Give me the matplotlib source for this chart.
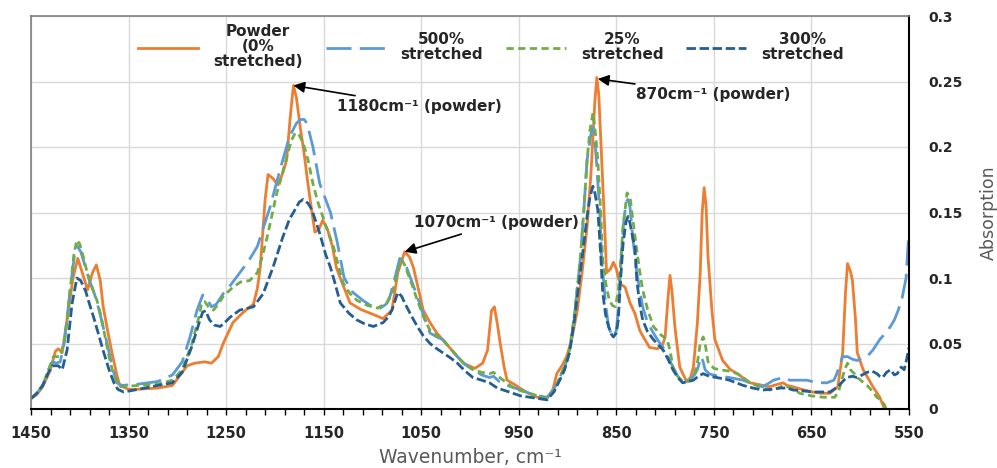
import matplotlib
matplotlib.use("Agg")
import matplotlib.pyplot as plt
import numpy as np

plt.rcParams["font.family"] = ["DejaVu Sans"]

# ---- data ----
powder_wn = [1450, 1444, 1438, 1430, 1425, 1422, 1418, 1412, 1407, 1402, 1397, 1392, 1387, 1383,
             1379, 1376, 1371, 1367, 1362, 1359, 1350, 1343, 1320, 1305, 1297, 1290, 1282, 1272,
             1265, 1258, 1253, 1243, 1235, 1229, 1222, 1218, 1215, 1210, 1207, 1202, 1197, 1192,
             1188, 1184, 1181, 1178, 1174, 1170, 1167, 1163, 1159, 1155, 1151, 1146, 1141, 1137,
             1133, 1123, 1112, 1102, 1089, 1080, 1074, 1067, 1062, 1058, 1053, 1048, 1041, 1034,
             1021, 1007, 995, 987, 982, 978, 975, 972, 969, 965, 962, 955, 949, 940, 931, 921,
             915, 911, 905, 901, 896, 890, 885, 880, 876, 872, 870, 868, 865, 862, 860, 856, 853,
             850, 848, 845, 841, 836, 831, 826, 820, 816, 808, 803, 800, 797, 795, 793, 790, 785,
             778, 774, 771, 767, 764, 762, 760, 758, 756, 752, 749, 741, 733, 726, 713, 700, 693,
             684, 679, 675, 669, 660, 649, 640, 631, 623, 618, 615, 613, 610, 608, 605, 603, 597,
             587, 580, 574, 571]
powder_abs = [0.008, 0.011, 0.017, 0.030, 0.044, 0.046, 0.043, 0.073, 0.100, 0.115, 0.103, 0.091,
              0.104, 0.110, 0.098, 0.078, 0.058, 0.043, 0.026, 0.018, 0.015, 0.015, 0.016, 0.018,
              0.026, 0.033, 0.035, 0.036, 0.035, 0.040, 0.050, 0.066, 0.072, 0.076, 0.080, 0.092,
              0.108, 0.160, 0.179, 0.176, 0.171, 0.180, 0.190, 0.225, 0.247, 0.238, 0.215, 0.195,
              0.177, 0.155, 0.135, 0.137, 0.144, 0.137, 0.124, 0.108, 0.100, 0.081, 0.076, 0.073,
              0.069, 0.0755, 0.104, 0.120, 0.116, 0.108, 0.092, 0.0755, 0.066, 0.058, 0.047, 0.035,
              0.031, 0.035, 0.045, 0.075, 0.078, 0.065, 0.050, 0.032, 0.022, 0.019, 0.016, 0.012,
              0.009, 0.008, 0.015, 0.027, 0.034, 0.040, 0.052, 0.0755, 0.105, 0.139, 0.180, 0.235,
              0.253, 0.240, 0.190, 0.140, 0.104, 0.107, 0.112, 0.107, 0.100, 0.095, 0.093, 0.081,
              0.073, 0.060, 0.052, 0.047, 0.046, 0.048, 0.055, 0.085, 0.102, 0.090, 0.063, 0.032,
              0.021, 0.024, 0.032, 0.065, 0.104, 0.150, 0.169, 0.155, 0.116, 0.075, 0.053, 0.037,
              0.030, 0.027, 0.020, 0.018, 0.017, 0.019, 0.020, 0.018, 0.017, 0.015, 0.013, 0.012,
              0.012, 0.017, 0.043, 0.090, 0.111, 0.105, 0.098, 0.070, 0.043, 0.030, 0.017, 0.009,
              -0.002, -0.010]

s500_wn = [1450, 1444, 1438, 1432, 1428, 1424, 1420, 1416, 1410, 1405, 1403, 1399, 1394, 1390,
           1385, 1380, 1372, 1366, 1362, 1357, 1340, 1320, 1305, 1295, 1287, 1280, 1274, 1270,
           1265, 1260, 1253, 1245, 1236, 1227, 1218, 1212, 1205, 1195, 1185, 1178, 1174, 1170,
           1167, 1161, 1154, 1148, 1143, 1136, 1129, 1120, 1110, 1102, 1092, 1086, 1082, 1077,
           1072, 1068, 1065, 1060, 1054, 1047, 1041, 1034, 1028, 1020, 1013, 1005, 997, 988, 980,
           976, 970, 962, 950, 939, 930, 921, 914, 908, 903, 898, 893, 887, 883, 880, 876, 874,
           872, 870, 867, 865, 861, 858, 855, 853, 850, 848, 845, 843, 840, 838, 836, 833, 829,
           823, 818, 812, 807, 802, 797, 792, 787, 783, 775, 770, 767, 763, 761, 759, 755, 751,
           742, 734, 727, 720, 710, 700, 693, 689, 679, 672, 662, 655, 649, 641, 634, 627, 624,
           620, 618, 613, 608, 603, 598, 593, 587, 580, 574, 569, 565, 561, 557, 553, 551, 550]
s500_abs = [0.008, 0.012, 0.018, 0.030, 0.036, 0.035, 0.036, 0.050, 0.090, 0.120, 0.125, 0.120,
            0.108, 0.098, 0.088, 0.075, 0.050, 0.030, 0.020, 0.018, 0.019, 0.021, 0.026, 0.036,
            0.055, 0.075, 0.087, 0.085, 0.078, 0.080, 0.088, 0.095, 0.104, 0.113, 0.124, 0.138,
            0.154, 0.182, 0.208, 0.218, 0.221, 0.221, 0.218, 0.200, 0.172, 0.160, 0.150, 0.127,
            0.100, 0.089, 0.083, 0.079, 0.077, 0.080, 0.086, 0.100, 0.115, 0.112, 0.108, 0.098,
            0.086, 0.070, 0.058, 0.055, 0.053, 0.046, 0.040, 0.034, 0.030, 0.026, 0.024, 0.025,
            0.021, 0.018, 0.015, 0.012, 0.010, 0.009, 0.015, 0.024, 0.032, 0.043, 0.070, 0.114,
            0.155, 0.190, 0.210, 0.215, 0.205, 0.185, 0.150, 0.114, 0.080, 0.063, 0.057, 0.055,
            0.060, 0.0755, 0.115, 0.139, 0.158, 0.160, 0.154, 0.130, 0.104, 0.078, 0.066, 0.058,
            0.052, 0.047, 0.040, 0.032, 0.025, 0.021, 0.022, 0.026, 0.030, 0.040, 0.036, 0.030,
            0.027, 0.026, 0.025, 0.024, 0.023, 0.022, 0.019, 0.017, 0.020, 0.022, 0.024, 0.022,
            0.022, 0.022, 0.021, 0.020, 0.020, 0.022, 0.027, 0.036, 0.040, 0.040, 0.038, 0.037,
            0.039, 0.040, 0.045, 0.053, 0.058, 0.063, 0.068, 0.0755, 0.085, 0.100, 0.125, 0.132]

s25_wn = [1450, 1444, 1438, 1432, 1427, 1420, 1415, 1410, 1406, 1403, 1400, 1396, 1392, 1387,
          1382, 1378, 1374, 1370, 1366, 1361, 1358, 1340, 1320, 1305, 1295, 1285, 1278, 1275,
          1272, 1268, 1263, 1258, 1253, 1243, 1235, 1226, 1218, 1213, 1208, 1203, 1198, 1193,
          1188, 1183, 1179, 1175, 1171, 1166, 1161, 1156, 1151, 1146, 1140, 1133, 1130, 1123,
          1116, 1105, 1095, 1085, 1080, 1077, 1073, 1070, 1067, 1064, 1059, 1054, 1048, 1041,
          1034, 1028, 1020, 1013, 1005, 997, 988, 980, 976, 971, 966, 955, 948, 939, 930, 921,
          914, 908, 903, 898, 893, 887, 883, 880, 877, 874, 872, 869, 866, 864, 860, 857, 854,
          851, 848, 846, 843, 839, 836, 833, 829, 826, 823, 818, 812, 805, 798, 795, 792, 787,
          782, 776, 771, 767, 764, 761, 759, 756, 750, 744, 735, 726, 720, 713, 703, 693, 684,
          679, 675, 668, 662, 650, 638, 626, 622, 619, 616, 613, 610, 606, 603, 598, 593, 588,
          583, 579, 575, 572, 570]
s25_abs = [0.008, 0.012, 0.018, 0.030, 0.040, 0.040, 0.055, 0.090, 0.118, 0.129, 0.126, 0.115,
           0.103, 0.092, 0.082, 0.070, 0.055, 0.040, 0.028, 0.019, 0.017, 0.018, 0.019, 0.022,
           0.030, 0.050, 0.070, 0.081, 0.082, 0.078, 0.0755, 0.080, 0.086, 0.093, 0.097, 0.098,
           0.104, 0.116, 0.131, 0.148, 0.165, 0.178, 0.192, 0.205, 0.211, 0.209, 0.203, 0.190,
           0.172, 0.158, 0.147, 0.136, 0.124, 0.104, 0.096, 0.088, 0.083, 0.079, 0.077, 0.081,
           0.088, 0.096, 0.108, 0.114, 0.110, 0.104, 0.094, 0.083, 0.071, 0.060, 0.056, 0.053,
           0.046, 0.040, 0.034, 0.030, 0.028, 0.027, 0.028, 0.025, 0.022, 0.016, 0.014, 0.012,
           0.010, 0.008, 0.014, 0.024, 0.033, 0.045, 0.072, 0.114, 0.155, 0.190, 0.213, 0.226,
           0.215, 0.190, 0.150, 0.114, 0.092, 0.083, 0.079, 0.078, 0.090, 0.108, 0.140, 0.165,
           0.162, 0.144, 0.121, 0.105, 0.091, 0.076, 0.063, 0.057, 0.053, 0.045, 0.032, 0.025,
           0.021, 0.021, 0.024, 0.035, 0.050, 0.055, 0.050, 0.036, 0.031, 0.030, 0.029, 0.027,
           0.024, 0.020, 0.017, 0.0145, 0.016, 0.018, 0.017, 0.015, 0.012, 0.010, 0.009, 0.009,
           0.014, 0.022, 0.030, 0.035, 0.030, 0.027, 0.024, 0.021, 0.018, 0.014, 0.009, 0.007,
           0.003, -0.003, -0.010]

s300_wn = [1450, 1444, 1438, 1432, 1428, 1422, 1418, 1413, 1408, 1403, 1399, 1394, 1390, 1385,
           1380, 1375, 1370, 1365, 1361, 1355, 1340, 1320, 1305, 1295, 1285, 1278, 1274, 1271,
           1267, 1262, 1256, 1250, 1246, 1236, 1222, 1212, 1202, 1192, 1185, 1181, 1175, 1171,
           1166, 1162, 1154, 1148, 1143, 1138, 1133, 1124, 1116, 1108, 1099, 1089, 1084, 1080,
           1074, 1070, 1067, 1060, 1054, 1048, 1041, 1034, 1028, 1020, 1013, 1005, 997, 988, 980,
           972, 964, 956, 948, 939, 930, 921, 914, 908, 903, 898, 893, 887, 883, 880, 877, 874,
           872, 869, 866, 864, 861, 858, 855, 853, 850, 848, 846, 843, 840, 838, 836, 833, 831,
           829, 826, 823, 818, 812, 807, 802, 797, 792, 787, 782, 776, 771, 766, 761, 755, 747,
           740, 734, 727, 720, 710, 700, 691, 682, 675, 669, 660, 649, 640, 631, 623, 618, 614,
           608, 603, 598, 593, 588, 583, 580, 577, 573, 569, 565, 562, 558, 555, 553, 551, 550]
s300_abs = [0.008, 0.012, 0.018, 0.028, 0.033, 0.033, 0.030, 0.045, 0.080, 0.100, 0.098, 0.090,
            0.080, 0.068, 0.055, 0.042, 0.030, 0.020, 0.015, 0.013, 0.015, 0.018, 0.020, 0.028,
            0.048, 0.065, 0.074, 0.075, 0.068, 0.064, 0.063, 0.067, 0.070, 0.0755, 0.078, 0.088,
            0.108, 0.131, 0.145, 0.150, 0.158, 0.160, 0.157, 0.152, 0.134, 0.118, 0.108, 0.095,
            0.081, 0.073, 0.068, 0.065, 0.063, 0.066, 0.070, 0.0755, 0.089, 0.086, 0.081, 0.071,
            0.063, 0.056, 0.050, 0.046, 0.043, 0.039, 0.035, 0.029, 0.024, 0.022, 0.020, 0.016,
            0.014, 0.012, 0.010, 0.009, 0.008, 0.007, 0.013, 0.022, 0.030, 0.043, 0.068, 0.104,
            0.128, 0.147, 0.162, 0.170, 0.165, 0.152, 0.118, 0.089, 0.072, 0.063, 0.057, 0.055,
            0.058, 0.068, 0.095, 0.127, 0.143, 0.147, 0.142, 0.130, 0.124, 0.098, 0.080, 0.068,
            0.059, 0.053, 0.049, 0.045, 0.038, 0.030, 0.024, 0.020, 0.021, 0.022, 0.025, 0.027,
            0.025, 0.024, 0.023, 0.022, 0.020, 0.018, 0.016, 0.0145, 0.015, 0.016, 0.016, 0.0145,
            0.014, 0.013, 0.013, 0.013, 0.017, 0.021, 0.024, 0.025, 0.024, 0.026, 0.028, 0.029,
            0.027, 0.025, 0.024, 0.028, 0.030, 0.026, 0.027, 0.032, 0.030, 0.036, 0.043, 0.047]

series_labels = ["Powder\n(0%\nstretched)", "500%\nstretched", "25%\nstretched", "300%\nstretched"]
series_colors = ["#ED7D31", "#5B9BD5", "#70AD47", "#255E91"]

x_ticks = [1450, 1350, 1250, 1150, 1050, 950, 850, 750, 650, 550]
y_ticks = [0, 0.05, 0.1, 0.15, 0.2, 0.25, 0.3]

# annotations: (label, peak wavenumber, peak absorbance, text wavenumber, text absorbance)
peak_notes = [
    ("1180cm\u207b\u00b9 (powder)", 1181, 0.247, 1136, 0.231),
    ("1070cm\u207b\u00b9 (powder)", 1067, 0.120, 1057, 0.142),
    ("870cm\u207b\u00b9 (powder)", 869, 0.252, 830, 0.240),
]


def main() -> None:
    fig = plt.figure(figsize=(9.97, 4.68), dpi=100)
    ax = fig.add_axes([31 / 997, 59 / 468, 878 / 997, 393 / 468])

    series = [
        (powder_wn, powder_abs, "-"),
        (s500_wn, s500_abs, (0, (9, 3))),
        (s25_wn, s25_abs, (0, (2.6, 1.6))),
        (s300_wn, s300_abs, (0, (3.4, 1.3))),
    ]
    handles = []
    for (wn, ab, ls), label, color in zip(series, series_labels, series_colors):
        line, = ax.plot(wn, ab, color=color, linestyle=ls, linewidth=2.0, label=label)
        handles.append(line)

    ax.set_xlim(1450, 550)
    ax.set_ylim(0, 0.3)

    ax.set_xticks(x_ticks)
    ax.set_xticks(np.arange(550, 1451, 20), minor=True)
    ax.set_xticklabels([str(v) for v in x_ticks], fontweight="bold", fontsize=10.5, color="#262626")
    ax.tick_params(axis="x", which="both", direction="out", length=4, width=1, pad=8)

    ax.yaxis.tick_right()
    ax.yaxis.set_label_position("right")
    ax.set_yticks(y_ticks)
    ax.set_yticklabels([f"{v:g}" for v in y_ticks], fontweight="bold", fontsize=10, color="#262626")
    ax.tick_params(axis="y", length=0, pad=14)

    ax.grid(True, which="major", color="#d9d9d9", linewidth=1)
    ax.set_axisbelow(True)

    for side in ("left", "top"):
        ax.spines[side].set_color("#7f7f7f")
        ax.spines[side].set_linewidth(1.2)
    for side in ("right", "bottom"):
        ax.spines[side].set_color("black")
        ax.spines[side].set_linewidth(1.5)

    ax.set_xlabel("Wavenumber, cm\u207b\u00b9", fontsize=13.5, color="#595959")
    ax.xaxis.set_label_coords(0.5, -0.098)
    ax.set_ylabel("Absorption", fontsize=12.5, color="#595959")
    ax.yaxis.set_label_coords(1.081, 0.5)

    for text, px, py, tx, ty in peak_notes:
        ax.annotate(text, xy=(px, py), xytext=(tx, ty), fontsize=11, fontweight="bold",
                    va="center", ha="left", color="#262626",
                    arrowprops=dict(arrowstyle="-|>,head_length=0.6,head_width=0.3",
                                    color="black", lw=1.2, shrinkA=2, shrinkB=0))

    leg = ax.legend(handles=handles, loc="upper center", bbox_to_anchor=(0.524, 1.0), ncol=4,
                    frameon=False, handlelength=3.9, handletextpad=1.0, columnspacing=1.5,
                    borderaxespad=0.15, prop={"weight": "bold", "size": 11})
    for t in leg.get_texts():
        t.set_multialignment("center")
        t.set_linespacing(1.0)
        t.set_color("#262626")

    fig.savefig("out.png", dpi=100)
    plt.close(fig)


if __name__ == "__main__":
    main()
